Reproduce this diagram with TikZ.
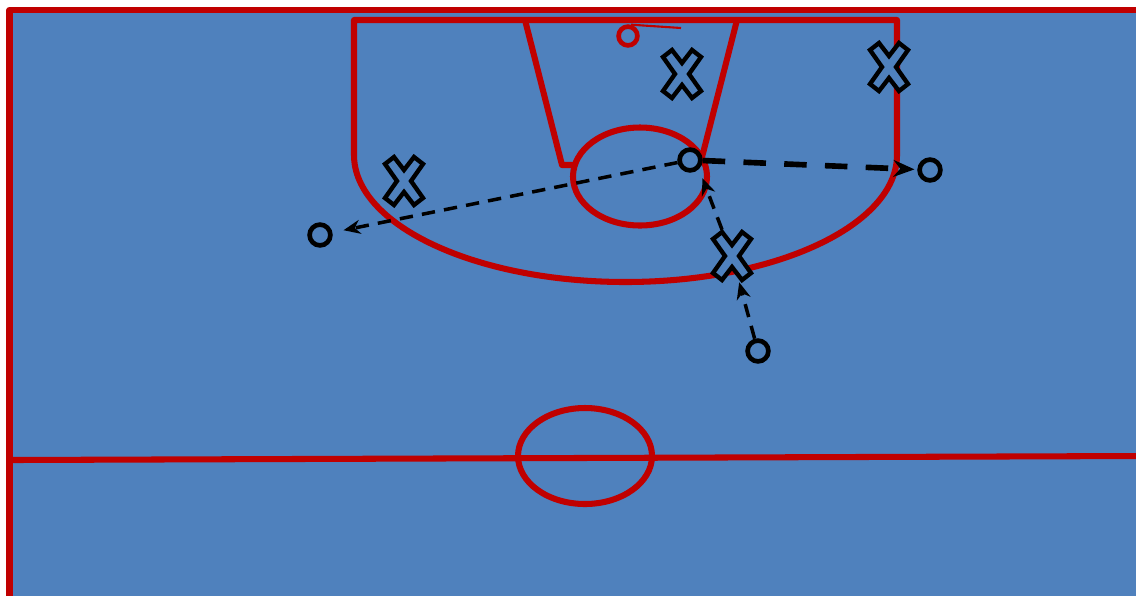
\documentclass[tikz,border=0pt]{standalone}
\usepackage{tikz}
\usetikzlibrary{arrows.meta, positioning}
\definecolor{courtblue}{RGB}{79, 129, 189}
\definecolor{courtred}{RGB}{192, 0, 0}
\tikzset{
  courtline/.style={draw=courtred, line width=4.3pt, line join=round},
  hoopline/.style={draw=courtred, line width=1.5pt},
  rim/.style={circle, draw=courtred, line width=3.3pt, minimum size=0.47cm, inner sep=0pt},
  offplayer/.style={circle, draw=black, line width=3.3pt, minimum size=0.52cm, inner sep=0pt},
  xbox/.style={rectangle, minimum width=1cm, minimum height=1.3cm, inner sep=0pt},
  xmark/.pic={
    \draw[black, line width=3.1pt, line join=miter, fill=courtblue]
      (-19,-17) -- (-10,-24) -- (0,-11) -- (10,-24) -- (19,-17) -- (7,0) --
      (19,17) -- (10,24) -- (0,11) -- (-10,24) -- (-19,17) -- (-7,0) -- cycle;
  },
  passarrow/.style={-{Stealth[length=12pt, width=10pt]}, line width=2.5pt,
                    dash pattern=on 9.5pt off 6.5pt},
  bigpass/.style={-{Stealth[length=15pt, width=12pt]}, line width=4pt,
                  dash pattern=on 16pt off 13pt},
}

\begin{document}
\begin{tikzpicture}[x=0.025cm, y=-0.025cm]
  \useasboundingbox (0,0) rectangle (1136,595);
  % court
  \fill[courtblue] (9.5,10) rectangle (1145,605);
  \draw[courtline] (9.5,605) -- (9.5,10) -- (1145,10);
  \draw[courtline] (13,460) -- (1140,456);
  \draw[courtline] (585,456) ellipse [x radius=67, y radius=48];
  \draw[courtline] (354,20) -- (354,155)
    arc[start angle=180, end angle=0, x radius=271.5, y radius=127] -- (897,20) -- cycle;
  \draw[courtline] (525,20) -- (562,165) -- (700,165) -- (737,20);
  \draw[courtline, fill=courtblue] (640,176.5) ellipse [x radius=67, y radius=49];
  % hoop
  \coordinate (hoopend) at (681,28);
  \node[rim] (rim) at (628,36) {};
  \draw[hoopline] (rim.75) -- (hoopend);
  % defence
  \foreach \n/\p in {x1/{404,181}, x2/{682,74}, x3/{889,67}, x4/{732,256}} {
    \node[xbox] (\n) at (\p) {};
    \pic at (\n) {xmark};
  }
  % offence
  \node[offplayer] (o1) at (320,235) {};
  \node[offplayer] (o2) at (690,160) {};
  \node[offplayer] (o3) at (930,170) {};
  \node[offplayer] (o4) at (758,351) {};
  \draw[passarrow, shorten >=8pt] (o2) -- (o1);
  \draw[bigpass, shorten >=2pt] (o2) -- (o3);
  \draw[passarrow, shorten >=7pt] (x4) -- (o2.south east);
  \draw[passarrow] (o4) -- (x4);
\end{tikzpicture}
\end{document}
